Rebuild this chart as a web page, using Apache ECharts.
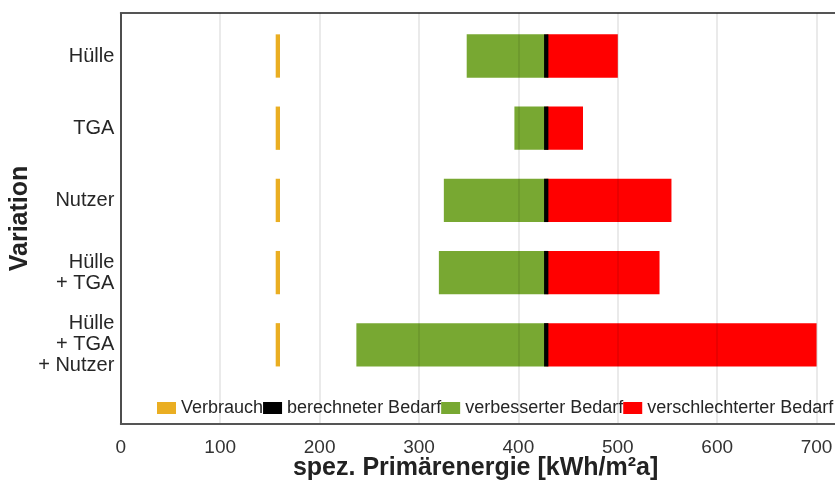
<!DOCTYPE html>
<html>
<head>
<meta charset="utf-8">
<script src="https://cdn.jsdelivr.net/npm/echarts@6/dist/echarts.min.js"></script>
<style>
  html, body { margin: 0; padding: 0; background: #fff; }
  #chart { width: 835px; height: 486px; }
</style>
</head>
<body>
<div id="chart"></div>
<script>
// Variation cases (top to bottom)
const categories = ['Hülle', 'TGA', 'Nutzer', 'Hülle\n+ TGA', 'Hülle\n+ TGA\n+ Nutzer'];
// spez. Primärenergie in kWh/m²a
const verbrauch = [158, 158, 158, 158, 158];
const berechneterBedarf = [428, 428, 428, 428, 428];
const verbesserterBedarf = [348, 396, 325, 320, 237];
const verschlechterterBedarf = [500, 465, 554, 542, 700];
const xTicks = [0, 100, 200, 300, 400, 500, 600, 700];

const FONT = '"Liberation Sans", Arial, Helvetica, sans-serif';
const X_MIN = 0, X_MAX = 730;
const LEFT = 120.8;
const PLOT_W = 725.6;   // plot runs a little past the right edge of the canvas
const BAR_H = 43.3;

const greenPart = verbesserterBedarf.map((v, i) => berechneterBedarf[i] - v);
const redPart = verschlechterterBedarf.map((v, i) => v - berechneterBedarf[i]);

const chart = echarts.init(document.getElementById('chart'), null, { renderer: 'canvas' });

chart.setOption({
  animation: false,
  backgroundColor: '#ffffff',
  textStyle: { fontFamily: FONT },
  legend: {
    left: 152,
    top: 394,
    width: 720,
    itemWidth: 19,
    itemHeight: 12,
    itemGap: 0,
    icon: 'rect',
    textStyle: { fontSize: 18, color: '#262626', fontFamily: FONT },
    data: ['Verbrauch', 'berechneter Bedarf', 'verbesserter Bedarf', 'verschlechterter Bedarf']
  },
  grid: [
    // frame with the value axis, gridlines and borders
    { left: LEFT, width: PLOT_W, top: 13, bottom: 62, outerBoundsMode: 'none', containLabel: false },
    // band area holding the five variations
    { left: LEFT, width: PLOT_W, top: 19.9, bottom: 105.1, outerBoundsMode: 'none', containLabel: false }
  ],
  xAxis: [
    {
      gridIndex: 0, type: 'value', min: X_MIN, max: X_MAX, interval: 100,
      z: 3,
      name: 'spez. Primärenergie [kWh/m²a]',
      nameLocation: 'middle',
      nameGap: 32,
      nameMoveOverlap: false,
      nameTextStyle: { fontSize: 25, fontWeight: 'bold', color: '#222', fontFamily: FONT, padding: [0, 16, 0, 0] },
      axisLine: { show: true, lineStyle: { color: '#555', width: 2 } },
      axisTick: { show: false },
      axisLabel: {
        fontSize: 19, color: '#333', margin: 14, fontFamily: FONT,
        showMaxLabel: false,
        formatter: v => (xTicks.indexOf(v) >= 0 ? String(v) : '')
      },
      splitLine: { show: true, lineStyle: { color: 'rgba(0,0,0,0.11)', width: 1.5 } }
    },
    {
      // top border of the plot
      gridIndex: 0, type: 'value', position: 'top', min: X_MIN, max: X_MAX,
      axisLine: { show: true, lineStyle: { color: '#555', width: 2 } },
      axisTick: { show: false }, axisLabel: { show: false }, splitLine: { show: false }
    },
    {
      gridIndex: 1, type: 'value', min: X_MIN, max: X_MAX, show: false
    }
  ],
  yAxis: [
    {
      gridIndex: 0, type: 'value', min: 0, max: 1,
      name: 'Variation',
      nameLocation: 'middle',
      nameRotate: 90,
      nameGap: 88,
      nameMoveOverlap: false,
      nameTextStyle: { fontSize: 25, fontWeight: 'bold', color: '#222', fontFamily: FONT },
      axisLine: { show: true, lineStyle: { color: '#555', width: 2 } },
      axisTick: { show: false }, axisLabel: { show: false }, splitLine: { show: false }
    },
    {
      gridIndex: 1, type: 'category', inverse: true, data: categories,
      axisLine: { show: false }, axisTick: { show: false },
      axisLabel: {
        fontSize: 20, lineHeight: 21, color: '#262626', margin: 6.5,
        align: 'right', fontFamily: FONT
      },
      splitLine: { show: false }
    }
  ],
  series: [
    {
      name: 'Basis', type: 'bar', stack: 'span', xAxisIndex: 2, yAxisIndex: 1,
      barWidth: BAR_H, silent: true,
      itemStyle: { color: 'rgba(0,0,0,0)' },
      data: verbesserterBedarf
    },
    {
      name: 'verbesserter Bedarf', type: 'bar', stack: 'span', xAxisIndex: 2, yAxisIndex: 1,
      barWidth: BAR_H,
      itemStyle: { color: '#78A832' },
      data: greenPart
    },
    {
      name: 'verschlechterter Bedarf', type: 'bar', stack: 'span', xAxisIndex: 2, yAxisIndex: 1,
      barWidth: BAR_H,
      itemStyle: { color: '#FF0000' },
      data: redPart
    },
    {
      name: 'berechneter Bedarf', type: 'scatter', xAxisIndex: 2, yAxisIndex: 1,
      symbol: 'rect', symbolSize: [4.3, BAR_H], z: 5,
      itemStyle: { color: '#000000', opacity: 1 },
      data: berechneterBedarf.map((v, i) => [v, i])
    },
    {
      name: 'Verbrauch', type: 'scatter', xAxisIndex: 2, yAxisIndex: 1,
      symbol: 'rect', symbolSize: [4.3, BAR_H], z: 5,
      itemStyle: { color: '#EAAE22', opacity: 1 },
      data: verbrauch.map((v, i) => [v, i])
    }
  ]
});
</script>
</body>
</html>
